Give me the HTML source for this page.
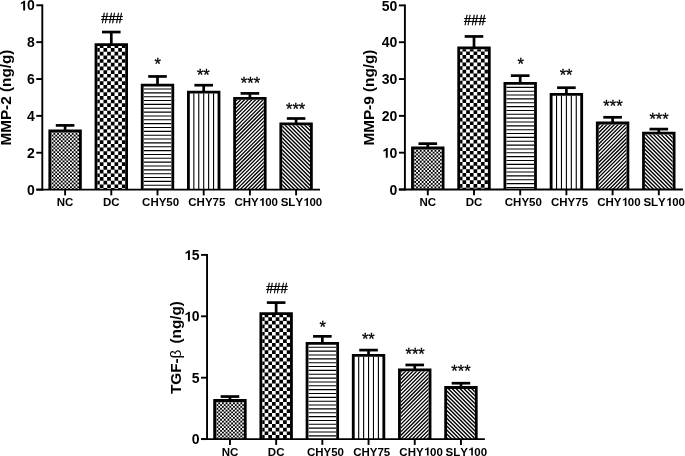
<!DOCTYPE html>
<html><head><meta charset="utf-8"><style>
html,body{margin:0;padding:0;background:#fff;overflow:hidden;}
body{filter:grayscale(1);}
svg{display:block;}
text{font-family:"Liberation Sans", sans-serif;fill:#000;font-kerning:none;}
</style></head><body>
<svg width="685" height="456" viewBox="0 0 685 456">
<defs><clipPath id="c0_0"><rect x="51.2" y="132.4" width="27.8" height="57.2"/></clipPath>
<clipPath id="c0_1"><rect x="97.4" y="46" width="27.8" height="143.6"/></clipPath>
<clipPath id="c0_2"><rect x="143.6" y="86.5" width="27.8" height="103.1"/></clipPath>
<clipPath id="c0_3"><rect x="189.8" y="93.5" width="27.8" height="96.1"/></clipPath>
<clipPath id="c0_4"><rect x="236" y="99.8" width="27.8" height="89.8"/></clipPath>
<clipPath id="c0_5"><rect x="282.2" y="125.3" width="27.8" height="64.3"/></clipPath>
<clipPath id="c1_0"><rect x="413.9" y="149.4" width="27.8" height="40.1"/></clipPath>
<clipPath id="c1_1"><rect x="460.1" y="49.3" width="27.8" height="140.2"/></clipPath>
<clipPath id="c1_2"><rect x="506.3" y="84.85" width="27.8" height="104.65"/></clipPath>
<clipPath id="c1_3"><rect x="552.5" y="95.8" width="27.8" height="93.7"/></clipPath>
<clipPath id="c1_4"><rect x="598.7" y="124.4" width="27.8" height="65.1"/></clipPath>
<clipPath id="c1_5"><rect x="644.9" y="134.6" width="27.8" height="54.9"/></clipPath>
<clipPath id="c2_0"><rect x="216.05" y="401.9" width="27.8" height="37.2"/></clipPath>
<clipPath id="c2_1"><rect x="262.25" y="315.1" width="27.8" height="124"/></clipPath>
<clipPath id="c2_2"><rect x="308.45" y="344.8" width="27.8" height="94.3"/></clipPath>
<clipPath id="c2_3"><rect x="354.65" y="356.8" width="27.8" height="82.3"/></clipPath>
<clipPath id="c2_4"><rect x="400.85" y="371.2" width="27.8" height="67.9"/></clipPath>
<clipPath id="c2_5"><rect x="447.05" y="388.9" width="27.8" height="50.2"/></clipPath></defs>
<rect width="685" height="456" fill="#fff"/>
<line x1="36.3" y1="189.6" x2="42.3" y2="189.6" stroke="#000" stroke-width="1.9"/>
<text x="34.7" y="194.75" text-anchor="end" font-weight="bold" font-size="14">0</text>
<line x1="36.3" y1="152.74" x2="42.3" y2="152.74" stroke="#000" stroke-width="1.9"/>
<text x="34.7" y="157.89" text-anchor="end" font-weight="bold" font-size="14">2</text>
<line x1="36.3" y1="115.88" x2="42.3" y2="115.88" stroke="#000" stroke-width="1.9"/>
<text x="34.7" y="121.03" text-anchor="end" font-weight="bold" font-size="14">4</text>
<line x1="36.3" y1="79.02" x2="42.3" y2="79.02" stroke="#000" stroke-width="1.9"/>
<text x="34.7" y="84.17" text-anchor="end" font-weight="bold" font-size="14">6</text>
<line x1="36.3" y1="42.16" x2="42.3" y2="42.16" stroke="#000" stroke-width="1.9"/>
<text x="34.7" y="47.31" text-anchor="end" font-weight="bold" font-size="14">8</text>
<line x1="36.3" y1="5.3" x2="42.3" y2="5.3" stroke="#000" stroke-width="1.9"/>
<text id="o0" x="34.7" y="10.45" text-anchor="end" font-weight="bold" font-size="14"> 0</text><path d="M0.43 0L0.43 -0.7L0.33 -0.7Q0.3 -0.62 0.12 -0.555L0.12 -0.445Q0.21 -0.475 0.29 -0.525L0.29 0Z" transform="translate(19.12,10.45) scale(14)"/>
<text transform="translate(10.7,97.6) rotate(-90)" text-anchor="middle" font-weight="bold" font-size="15.3">MMP-2 (ng/g)</text>
<line x1="65.1" y1="189.6" x2="65.1" y2="195.4" stroke="#000" stroke-width="1.9"/>
<text x="65.1" y="206" text-anchor="middle" font-weight="bold" font-size="11.5">NC</text>
<rect x="63.75" y="125.4" width="2.7" height="5.2" fill="#000"/>
<rect x="55.8" y="124.05" width="18.6" height="2.7" fill="#000"/>
<rect x="51.2" y="132.4" width="27.8" height="57.2" fill="#fff"/>
<path clip-path="url(#c0_0)" d="M51.6 130.96h1.84v1.84h-1.84zM55.28 130.96h1.84v1.84h-1.84zM58.96 130.96h1.84v1.84h-1.84zM62.64 130.96h1.84v1.84h-1.84zM66.32 130.96h1.84v1.84h-1.84zM70 130.96h1.84v1.84h-1.84zM73.68 130.96h1.84v1.84h-1.84zM77.36 130.96h1.84v1.84h-1.84zM49.76 132.8h1.84v1.84h-1.84zM53.44 132.8h1.84v1.84h-1.84zM57.12 132.8h1.84v1.84h-1.84zM60.8 132.8h1.84v1.84h-1.84zM64.48 132.8h1.84v1.84h-1.84zM68.16 132.8h1.84v1.84h-1.84zM71.84 132.8h1.84v1.84h-1.84zM75.52 132.8h1.84v1.84h-1.84zM51.6 134.64h1.84v1.84h-1.84zM55.28 134.64h1.84v1.84h-1.84zM58.96 134.64h1.84v1.84h-1.84zM62.64 134.64h1.84v1.84h-1.84zM66.32 134.64h1.84v1.84h-1.84zM70 134.64h1.84v1.84h-1.84zM73.68 134.64h1.84v1.84h-1.84zM77.36 134.64h1.84v1.84h-1.84zM49.76 136.48h1.84v1.84h-1.84zM53.44 136.48h1.84v1.84h-1.84zM57.12 136.48h1.84v1.84h-1.84zM60.8 136.48h1.84v1.84h-1.84zM64.48 136.48h1.84v1.84h-1.84zM68.16 136.48h1.84v1.84h-1.84zM71.84 136.48h1.84v1.84h-1.84zM75.52 136.48h1.84v1.84h-1.84zM51.6 138.32h1.84v1.84h-1.84zM55.28 138.32h1.84v1.84h-1.84zM58.96 138.32h1.84v1.84h-1.84zM62.64 138.32h1.84v1.84h-1.84zM66.32 138.32h1.84v1.84h-1.84zM70 138.32h1.84v1.84h-1.84zM73.68 138.32h1.84v1.84h-1.84zM77.36 138.32h1.84v1.84h-1.84zM49.76 140.16h1.84v1.84h-1.84zM53.44 140.16h1.84v1.84h-1.84zM57.12 140.16h1.84v1.84h-1.84zM60.8 140.16h1.84v1.84h-1.84zM64.48 140.16h1.84v1.84h-1.84zM68.16 140.16h1.84v1.84h-1.84zM71.84 140.16h1.84v1.84h-1.84zM75.52 140.16h1.84v1.84h-1.84zM51.6 142h1.84v1.84h-1.84zM55.28 142h1.84v1.84h-1.84zM58.96 142h1.84v1.84h-1.84zM62.64 142h1.84v1.84h-1.84zM66.32 142h1.84v1.84h-1.84zM70 142h1.84v1.84h-1.84zM73.68 142h1.84v1.84h-1.84zM77.36 142h1.84v1.84h-1.84zM49.76 143.84h1.84v1.84h-1.84zM53.44 143.84h1.84v1.84h-1.84zM57.12 143.84h1.84v1.84h-1.84zM60.8 143.84h1.84v1.84h-1.84zM64.48 143.84h1.84v1.84h-1.84zM68.16 143.84h1.84v1.84h-1.84zM71.84 143.84h1.84v1.84h-1.84zM75.52 143.84h1.84v1.84h-1.84zM51.6 145.68h1.84v1.84h-1.84zM55.28 145.68h1.84v1.84h-1.84zM58.96 145.68h1.84v1.84h-1.84zM62.64 145.68h1.84v1.84h-1.84zM66.32 145.68h1.84v1.84h-1.84zM70 145.68h1.84v1.84h-1.84zM73.68 145.68h1.84v1.84h-1.84zM77.36 145.68h1.84v1.84h-1.84zM49.76 147.52h1.84v1.84h-1.84zM53.44 147.52h1.84v1.84h-1.84zM57.12 147.52h1.84v1.84h-1.84zM60.8 147.52h1.84v1.84h-1.84zM64.48 147.52h1.84v1.84h-1.84zM68.16 147.52h1.84v1.84h-1.84zM71.84 147.52h1.84v1.84h-1.84zM75.52 147.52h1.84v1.84h-1.84zM51.6 149.36h1.84v1.84h-1.84zM55.28 149.36h1.84v1.84h-1.84zM58.96 149.36h1.84v1.84h-1.84zM62.64 149.36h1.84v1.84h-1.84zM66.32 149.36h1.84v1.84h-1.84zM70 149.36h1.84v1.84h-1.84zM73.68 149.36h1.84v1.84h-1.84zM77.36 149.36h1.84v1.84h-1.84zM49.76 151.2h1.84v1.84h-1.84zM53.44 151.2h1.84v1.84h-1.84zM57.12 151.2h1.84v1.84h-1.84zM60.8 151.2h1.84v1.84h-1.84zM64.48 151.2h1.84v1.84h-1.84zM68.16 151.2h1.84v1.84h-1.84zM71.84 151.2h1.84v1.84h-1.84zM75.52 151.2h1.84v1.84h-1.84zM51.6 153.04h1.84v1.84h-1.84zM55.28 153.04h1.84v1.84h-1.84zM58.96 153.04h1.84v1.84h-1.84zM62.64 153.04h1.84v1.84h-1.84zM66.32 153.04h1.84v1.84h-1.84zM70 153.04h1.84v1.84h-1.84zM73.68 153.04h1.84v1.84h-1.84zM77.36 153.04h1.84v1.84h-1.84zM49.76 154.88h1.84v1.84h-1.84zM53.44 154.88h1.84v1.84h-1.84zM57.12 154.88h1.84v1.84h-1.84zM60.8 154.88h1.84v1.84h-1.84zM64.48 154.88h1.84v1.84h-1.84zM68.16 154.88h1.84v1.84h-1.84zM71.84 154.88h1.84v1.84h-1.84zM75.52 154.88h1.84v1.84h-1.84zM51.6 156.72h1.84v1.84h-1.84zM55.28 156.72h1.84v1.84h-1.84zM58.96 156.72h1.84v1.84h-1.84zM62.64 156.72h1.84v1.84h-1.84zM66.32 156.72h1.84v1.84h-1.84zM70 156.72h1.84v1.84h-1.84zM73.68 156.72h1.84v1.84h-1.84zM77.36 156.72h1.84v1.84h-1.84zM49.76 158.56h1.84v1.84h-1.84zM53.44 158.56h1.84v1.84h-1.84zM57.12 158.56h1.84v1.84h-1.84zM60.8 158.56h1.84v1.84h-1.84zM64.48 158.56h1.84v1.84h-1.84zM68.16 158.56h1.84v1.84h-1.84zM71.84 158.56h1.84v1.84h-1.84zM75.52 158.56h1.84v1.84h-1.84zM51.6 160.4h1.84v1.84h-1.84zM55.28 160.4h1.84v1.84h-1.84zM58.96 160.4h1.84v1.84h-1.84zM62.64 160.4h1.84v1.84h-1.84zM66.32 160.4h1.84v1.84h-1.84zM70 160.4h1.84v1.84h-1.84zM73.68 160.4h1.84v1.84h-1.84zM77.36 160.4h1.84v1.84h-1.84zM49.76 162.24h1.84v1.84h-1.84zM53.44 162.24h1.84v1.84h-1.84zM57.12 162.24h1.84v1.84h-1.84zM60.8 162.24h1.84v1.84h-1.84zM64.48 162.24h1.84v1.84h-1.84zM68.16 162.24h1.84v1.84h-1.84zM71.84 162.24h1.84v1.84h-1.84zM75.52 162.24h1.84v1.84h-1.84zM51.6 164.08h1.84v1.84h-1.84zM55.28 164.08h1.84v1.84h-1.84zM58.96 164.08h1.84v1.84h-1.84zM62.64 164.08h1.84v1.84h-1.84zM66.32 164.08h1.84v1.84h-1.84zM70 164.08h1.84v1.84h-1.84zM73.68 164.08h1.84v1.84h-1.84zM77.36 164.08h1.84v1.84h-1.84zM49.76 165.92h1.84v1.84h-1.84zM53.44 165.92h1.84v1.84h-1.84zM57.12 165.92h1.84v1.84h-1.84zM60.8 165.92h1.84v1.84h-1.84zM64.48 165.92h1.84v1.84h-1.84zM68.16 165.92h1.84v1.84h-1.84zM71.84 165.92h1.84v1.84h-1.84zM75.52 165.92h1.84v1.84h-1.84zM51.6 167.76h1.84v1.84h-1.84zM55.28 167.76h1.84v1.84h-1.84zM58.96 167.76h1.84v1.84h-1.84zM62.64 167.76h1.84v1.84h-1.84zM66.32 167.76h1.84v1.84h-1.84zM70 167.76h1.84v1.84h-1.84zM73.68 167.76h1.84v1.84h-1.84zM77.36 167.76h1.84v1.84h-1.84zM49.76 169.6h1.84v1.84h-1.84zM53.44 169.6h1.84v1.84h-1.84zM57.12 169.6h1.84v1.84h-1.84zM60.8 169.6h1.84v1.84h-1.84zM64.48 169.6h1.84v1.84h-1.84zM68.16 169.6h1.84v1.84h-1.84zM71.84 169.6h1.84v1.84h-1.84zM75.52 169.6h1.84v1.84h-1.84zM51.6 171.44h1.84v1.84h-1.84zM55.28 171.44h1.84v1.84h-1.84zM58.96 171.44h1.84v1.84h-1.84zM62.64 171.44h1.84v1.84h-1.84zM66.32 171.44h1.84v1.84h-1.84zM70 171.44h1.84v1.84h-1.84zM73.68 171.44h1.84v1.84h-1.84zM77.36 171.44h1.84v1.84h-1.84zM49.76 173.28h1.84v1.84h-1.84zM53.44 173.28h1.84v1.84h-1.84zM57.12 173.28h1.84v1.84h-1.84zM60.8 173.28h1.84v1.84h-1.84zM64.48 173.28h1.84v1.84h-1.84zM68.16 173.28h1.84v1.84h-1.84zM71.84 173.28h1.84v1.84h-1.84zM75.52 173.28h1.84v1.84h-1.84zM51.6 175.12h1.84v1.84h-1.84zM55.28 175.12h1.84v1.84h-1.84zM58.96 175.12h1.84v1.84h-1.84zM62.64 175.12h1.84v1.84h-1.84zM66.32 175.12h1.84v1.84h-1.84zM70 175.12h1.84v1.84h-1.84zM73.68 175.12h1.84v1.84h-1.84zM77.36 175.12h1.84v1.84h-1.84zM49.76 176.96h1.84v1.84h-1.84zM53.44 176.96h1.84v1.84h-1.84zM57.12 176.96h1.84v1.84h-1.84zM60.8 176.96h1.84v1.84h-1.84zM64.48 176.96h1.84v1.84h-1.84zM68.16 176.96h1.84v1.84h-1.84zM71.84 176.96h1.84v1.84h-1.84zM75.52 176.96h1.84v1.84h-1.84zM51.6 178.8h1.84v1.84h-1.84zM55.28 178.8h1.84v1.84h-1.84zM58.96 178.8h1.84v1.84h-1.84zM62.64 178.8h1.84v1.84h-1.84zM66.32 178.8h1.84v1.84h-1.84zM70 178.8h1.84v1.84h-1.84zM73.68 178.8h1.84v1.84h-1.84zM77.36 178.8h1.84v1.84h-1.84zM49.76 180.64h1.84v1.84h-1.84zM53.44 180.64h1.84v1.84h-1.84zM57.12 180.64h1.84v1.84h-1.84zM60.8 180.64h1.84v1.84h-1.84zM64.48 180.64h1.84v1.84h-1.84zM68.16 180.64h1.84v1.84h-1.84zM71.84 180.64h1.84v1.84h-1.84zM75.52 180.64h1.84v1.84h-1.84zM51.6 182.48h1.84v1.84h-1.84zM55.28 182.48h1.84v1.84h-1.84zM58.96 182.48h1.84v1.84h-1.84zM62.64 182.48h1.84v1.84h-1.84zM66.32 182.48h1.84v1.84h-1.84zM70 182.48h1.84v1.84h-1.84zM73.68 182.48h1.84v1.84h-1.84zM77.36 182.48h1.84v1.84h-1.84zM49.76 184.32h1.84v1.84h-1.84zM53.44 184.32h1.84v1.84h-1.84zM57.12 184.32h1.84v1.84h-1.84zM60.8 184.32h1.84v1.84h-1.84zM64.48 184.32h1.84v1.84h-1.84zM68.16 184.32h1.84v1.84h-1.84zM71.84 184.32h1.84v1.84h-1.84zM75.52 184.32h1.84v1.84h-1.84zM51.6 186.16h1.84v1.84h-1.84zM55.28 186.16h1.84v1.84h-1.84zM58.96 186.16h1.84v1.84h-1.84zM62.64 186.16h1.84v1.84h-1.84zM66.32 186.16h1.84v1.84h-1.84zM70 186.16h1.84v1.84h-1.84zM73.68 186.16h1.84v1.84h-1.84zM77.36 186.16h1.84v1.84h-1.84zM49.76 188h1.84v1.84h-1.84zM53.44 188h1.84v1.84h-1.84zM57.12 188h1.84v1.84h-1.84zM60.8 188h1.84v1.84h-1.84zM64.48 188h1.84v1.84h-1.84zM68.16 188h1.84v1.84h-1.84zM71.84 188h1.84v1.84h-1.84zM75.52 188h1.84v1.84h-1.84z" fill="#000"/>
<path d="M49.8 189.6V131H80.4V189.6" fill="none" stroke="#000" stroke-width="2.8" stroke-linejoin="miter"/>
<line x1="111.3" y1="189.6" x2="111.3" y2="195.4" stroke="#000" stroke-width="1.9"/>
<text x="111.3" y="206" text-anchor="middle" font-weight="bold" font-size="11.5">DC</text>
<rect x="109.95" y="32.05" width="2.7" height="12.15" fill="#000"/>
<rect x="102" y="30.7" width="18.6" height="2.7" fill="#000"/>
<rect x="97.4" y="46" width="27.8" height="143.6" fill="#fff"/>
<path clip-path="url(#c0_1)" d="M99.78 44.4h3.69v3.69h-3.69zM107.16 44.4h3.69v3.69h-3.69zM114.53 44.4h3.69v3.69h-3.69zM121.9 44.4h3.69v3.69h-3.69zM96.1 48.09h3.69v3.69h-3.69zM103.47 48.09h3.69v3.69h-3.69zM110.84 48.09h3.69v3.69h-3.69zM118.21 48.09h3.69v3.69h-3.69zM99.78 51.77h3.69v3.69h-3.69zM107.16 51.77h3.69v3.69h-3.69zM114.53 51.77h3.69v3.69h-3.69zM121.9 51.77h3.69v3.69h-3.69zM96.1 55.46h3.69v3.69h-3.69zM103.47 55.46h3.69v3.69h-3.69zM110.84 55.46h3.69v3.69h-3.69zM118.21 55.46h3.69v3.69h-3.69zM99.78 59.14h3.69v3.69h-3.69zM107.16 59.14h3.69v3.69h-3.69zM114.53 59.14h3.69v3.69h-3.69zM121.9 59.14h3.69v3.69h-3.69zM96.1 62.83h3.69v3.69h-3.69zM103.47 62.83h3.69v3.69h-3.69zM110.84 62.83h3.69v3.69h-3.69zM118.21 62.83h3.69v3.69h-3.69zM99.78 66.51h3.69v3.69h-3.69zM107.16 66.51h3.69v3.69h-3.69zM114.53 66.51h3.69v3.69h-3.69zM121.9 66.51h3.69v3.69h-3.69zM96.1 70.2h3.69v3.69h-3.69zM103.47 70.2h3.69v3.69h-3.69zM110.84 70.2h3.69v3.69h-3.69zM118.21 70.2h3.69v3.69h-3.69zM99.78 73.88h3.69v3.69h-3.69zM107.16 73.88h3.69v3.69h-3.69zM114.53 73.88h3.69v3.69h-3.69zM121.9 73.88h3.69v3.69h-3.69zM96.1 77.57h3.69v3.69h-3.69zM103.47 77.57h3.69v3.69h-3.69zM110.84 77.57h3.69v3.69h-3.69zM118.21 77.57h3.69v3.69h-3.69zM99.78 81.25h3.69v3.69h-3.69zM107.16 81.25h3.69v3.69h-3.69zM114.53 81.25h3.69v3.69h-3.69zM121.9 81.25h3.69v3.69h-3.69zM96.1 84.94h3.69v3.69h-3.69zM103.47 84.94h3.69v3.69h-3.69zM110.84 84.94h3.69v3.69h-3.69zM118.21 84.94h3.69v3.69h-3.69zM99.78 88.62h3.69v3.69h-3.69zM107.16 88.62h3.69v3.69h-3.69zM114.53 88.62h3.69v3.69h-3.69zM121.9 88.62h3.69v3.69h-3.69zM96.1 92.31h3.69v3.69h-3.69zM103.47 92.31h3.69v3.69h-3.69zM110.84 92.31h3.69v3.69h-3.69zM118.21 92.31h3.69v3.69h-3.69zM99.78 95.99h3.69v3.69h-3.69zM107.16 95.99h3.69v3.69h-3.69zM114.53 95.99h3.69v3.69h-3.69zM121.9 95.99h3.69v3.69h-3.69zM96.1 99.68h3.69v3.69h-3.69zM103.47 99.68h3.69v3.69h-3.69zM110.84 99.68h3.69v3.69h-3.69zM118.21 99.68h3.69v3.69h-3.69zM99.78 103.36h3.69v3.69h-3.69zM107.16 103.36h3.69v3.69h-3.69zM114.53 103.36h3.69v3.69h-3.69zM121.9 103.36h3.69v3.69h-3.69zM96.1 107.05h3.69v3.69h-3.69zM103.47 107.05h3.69v3.69h-3.69zM110.84 107.05h3.69v3.69h-3.69zM118.21 107.05h3.69v3.69h-3.69zM99.78 110.73h3.69v3.69h-3.69zM107.16 110.73h3.69v3.69h-3.69zM114.53 110.73h3.69v3.69h-3.69zM121.9 110.73h3.69v3.69h-3.69zM96.1 114.42h3.69v3.69h-3.69zM103.47 114.42h3.69v3.69h-3.69zM110.84 114.42h3.69v3.69h-3.69zM118.21 114.42h3.69v3.69h-3.69zM99.78 118.1h3.69v3.69h-3.69zM107.16 118.1h3.69v3.69h-3.69zM114.53 118.1h3.69v3.69h-3.69zM121.9 118.1h3.69v3.69h-3.69zM96.1 121.79h3.69v3.69h-3.69zM103.47 121.79h3.69v3.69h-3.69zM110.84 121.79h3.69v3.69h-3.69zM118.21 121.79h3.69v3.69h-3.69zM99.78 125.47h3.69v3.69h-3.69zM107.16 125.47h3.69v3.69h-3.69zM114.53 125.47h3.69v3.69h-3.69zM121.9 125.47h3.69v3.69h-3.69zM96.1 129.16h3.69v3.69h-3.69zM103.47 129.16h3.69v3.69h-3.69zM110.84 129.16h3.69v3.69h-3.69zM118.21 129.16h3.69v3.69h-3.69zM99.78 132.84h3.69v3.69h-3.69zM107.16 132.84h3.69v3.69h-3.69zM114.53 132.84h3.69v3.69h-3.69zM121.9 132.84h3.69v3.69h-3.69zM96.1 136.53h3.69v3.69h-3.69zM103.47 136.53h3.69v3.69h-3.69zM110.84 136.53h3.69v3.69h-3.69zM118.21 136.53h3.69v3.69h-3.69zM99.78 140.21h3.69v3.69h-3.69zM107.16 140.21h3.69v3.69h-3.69zM114.53 140.21h3.69v3.69h-3.69zM121.9 140.21h3.69v3.69h-3.69zM96.1 143.9h3.69v3.69h-3.69zM103.47 143.9h3.69v3.69h-3.69zM110.84 143.9h3.69v3.69h-3.69zM118.21 143.9h3.69v3.69h-3.69zM99.78 147.58h3.69v3.69h-3.69zM107.16 147.58h3.69v3.69h-3.69zM114.53 147.58h3.69v3.69h-3.69zM121.9 147.58h3.69v3.69h-3.69zM96.1 151.27h3.69v3.69h-3.69zM103.47 151.27h3.69v3.69h-3.69zM110.84 151.27h3.69v3.69h-3.69zM118.21 151.27h3.69v3.69h-3.69zM99.78 154.95h3.69v3.69h-3.69zM107.16 154.95h3.69v3.69h-3.69zM114.53 154.95h3.69v3.69h-3.69zM121.9 154.95h3.69v3.69h-3.69zM96.1 158.64h3.69v3.69h-3.69zM103.47 158.64h3.69v3.69h-3.69zM110.84 158.64h3.69v3.69h-3.69zM118.21 158.64h3.69v3.69h-3.69zM99.78 162.32h3.69v3.69h-3.69zM107.16 162.32h3.69v3.69h-3.69zM114.53 162.32h3.69v3.69h-3.69zM121.9 162.32h3.69v3.69h-3.69zM96.1 166.01h3.69v3.69h-3.69zM103.47 166.01h3.69v3.69h-3.69zM110.84 166.01h3.69v3.69h-3.69zM118.21 166.01h3.69v3.69h-3.69zM99.78 169.69h3.69v3.69h-3.69zM107.16 169.69h3.69v3.69h-3.69zM114.53 169.69h3.69v3.69h-3.69zM121.9 169.69h3.69v3.69h-3.69zM96.1 173.38h3.69v3.69h-3.69zM103.47 173.38h3.69v3.69h-3.69zM110.84 173.38h3.69v3.69h-3.69zM118.21 173.38h3.69v3.69h-3.69zM99.78 177.06h3.69v3.69h-3.69zM107.16 177.06h3.69v3.69h-3.69zM114.53 177.06h3.69v3.69h-3.69zM121.9 177.06h3.69v3.69h-3.69zM96.1 180.75h3.69v3.69h-3.69zM103.47 180.75h3.69v3.69h-3.69zM110.84 180.75h3.69v3.69h-3.69zM118.21 180.75h3.69v3.69h-3.69zM99.78 184.43h3.69v3.69h-3.69zM107.16 184.43h3.69v3.69h-3.69zM114.53 184.43h3.69v3.69h-3.69zM121.9 184.43h3.69v3.69h-3.69zM96.1 188.12h3.69v3.69h-3.69zM103.47 188.12h3.69v3.69h-3.69zM110.84 188.12h3.69v3.69h-3.69zM118.21 188.12h3.69v3.69h-3.69z" fill="#000"/>
<path d="M96 189.6V44.6H126.6V189.6" fill="none" stroke="#000" stroke-width="2.8" stroke-linejoin="miter"/>
<text transform="translate(112,22.85) scale(0.9,1)" text-anchor="middle" font-size="14.4" stroke="#000" stroke-width="0.42">###</text>
<line x1="157.5" y1="189.6" x2="157.5" y2="195.4" stroke="#000" stroke-width="1.9"/>
<text x="142.1" y="206" font-weight="bold" font-size="11.5">CHY50</text>
<rect x="156.15" y="76.45" width="2.7" height="8.25" fill="#000"/>
<rect x="148.2" y="75.1" width="18.6" height="2.7" fill="#000"/>
<path clip-path="url(#c0_2)" d="M143.6 89H171.4M143.6 92.85H171.4M143.6 96.7H171.4M143.6 100.55H171.4M143.6 104.4H171.4M143.6 108.25H171.4M143.6 112.1H171.4M143.6 115.95H171.4M143.6 119.8H171.4M143.6 123.65H171.4M143.6 127.5H171.4M143.6 131.35H171.4M143.6 135.2H171.4M143.6 139.05H171.4M143.6 142.9H171.4M143.6 146.75H171.4M143.6 150.6H171.4M143.6 154.45H171.4M143.6 158.3H171.4M143.6 162.15H171.4M143.6 166H171.4M143.6 169.85H171.4M143.6 173.7H171.4M143.6 177.55H171.4M143.6 181.4H171.4M143.6 185.25H171.4M143.6 189.1H171.4" stroke="#000" stroke-width="1.1" fill="none"/>
<path d="M142.2 189.6V85.1H172.8V189.6" fill="none" stroke="#000" stroke-width="2.8" stroke-linejoin="miter"/>
<text x="157.75" y="69.71" text-anchor="middle" font-size="16.5" stroke="#000" stroke-width="0.3">*</text>
<line x1="203.7" y1="189.6" x2="203.7" y2="195.4" stroke="#000" stroke-width="1.9"/>
<text x="188.3" y="206" font-weight="bold" font-size="11.5">CHY75</text>
<rect x="202.35" y="85.2" width="2.7" height="6.5" fill="#000"/>
<rect x="194.4" y="83.85" width="18.6" height="2.7" fill="#000"/>
<path clip-path="url(#c0_3)" d="M188.91 92.5V189.6M193.84 92.5V189.6M198.77 92.5V189.6M203.7 92.5V189.6M208.63 92.5V189.6M213.56 92.5V189.6M218.49 92.5V189.6" stroke="#000" stroke-width="1.1" fill="none"/>
<path d="M188.4 189.6V92.1H219V189.6" fill="none" stroke="#000" stroke-width="2.8" stroke-linejoin="miter"/>
<text x="203.35" y="80.76" text-anchor="middle" font-size="16.5" stroke="#000" stroke-width="0.3">**</text>
<line x1="249.9" y1="189.6" x2="249.9" y2="195.4" stroke="#000" stroke-width="1.9"/>
<text id="o1" x="234.5" y="206" font-weight="bold" font-size="11.5">CHY 00</text><path d="M0.43 0L0.43 -0.7L0.33 -0.7Q0.3 -0.62 0.12 -0.555L0.12 -0.445Q0.21 -0.475 0.29 -0.525L0.29 0Z" transform="translate(258.77,206) scale(11.5)"/>
<rect x="248.55" y="93.4" width="2.7" height="4.6" fill="#000"/>
<rect x="240.6" y="92.05" width="18.6" height="2.7" fill="#000"/>
<path clip-path="url(#c0_4)" d="M142.48 190.6L234.28 98.8M146.2 190.6L238 98.8M149.92 190.6L241.72 98.8M153.64 190.6L245.44 98.8M157.36 190.6L249.16 98.8M161.08 190.6L252.88 98.8M164.8 190.6L256.6 98.8M168.52 190.6L260.32 98.8M172.24 190.6L264.04 98.8M175.96 190.6L267.76 98.8M179.68 190.6L271.48 98.8M183.4 190.6L275.2 98.8M187.12 190.6L278.92 98.8M190.84 190.6L282.64 98.8M194.56 190.6L286.36 98.8M198.28 190.6L290.08 98.8M202 190.6L293.8 98.8M205.72 190.6L297.52 98.8M209.44 190.6L301.24 98.8M213.16 190.6L304.96 98.8M216.88 190.6L308.68 98.8M220.6 190.6L312.4 98.8M224.32 190.6L316.12 98.8M228.04 190.6L319.84 98.8M231.76 190.6L323.56 98.8M235.48 190.6L327.28 98.8M239.2 190.6L331 98.8M242.92 190.6L334.72 98.8M246.64 190.6L338.44 98.8M250.36 190.6L342.16 98.8M254.08 190.6L345.88 98.8M257.8 190.6L349.6 98.8M261.52 190.6L353.32 98.8M265.24 190.6L357.04 98.8" stroke="#000" stroke-width="1.32" fill="none"/>
<path d="M234.6 189.6V98.4H265.2V189.6" fill="none" stroke="#000" stroke-width="2.8" stroke-linejoin="miter"/>
<text x="250.5" y="89.11" text-anchor="middle" font-size="16.5" stroke="#000" stroke-width="0.3">***</text>
<line x1="296.1" y1="189.6" x2="296.1" y2="195.4" stroke="#000" stroke-width="1.9"/>
<text id="o2" x="280.7" y="206" font-weight="bold" font-size="11.5">SLY 00</text><path d="M0.43 0L0.43 -0.7L0.33 -0.7Q0.3 -0.62 0.12 -0.555L0.12 -0.445Q0.21 -0.475 0.29 -0.525L0.29 0Z" transform="translate(303.06,206) scale(11.5)"/>
<rect x="294.75" y="118.5" width="2.7" height="5" fill="#000"/>
<rect x="286.8" y="117.15" width="18.6" height="2.7" fill="#000"/>
<path clip-path="url(#c0_5)" d="M214 124.3L280.3 190.6M217.9 124.3L284.2 190.6M221.8 124.3L288.1 190.6M225.7 124.3L292 190.6M229.6 124.3L295.9 190.6M233.5 124.3L299.8 190.6M237.4 124.3L303.7 190.6M241.3 124.3L307.6 190.6M245.2 124.3L311.5 190.6M249.1 124.3L315.4 190.6M253 124.3L319.3 190.6M256.9 124.3L323.2 190.6M260.8 124.3L327.1 190.6M264.7 124.3L331 190.6M268.6 124.3L334.9 190.6M272.5 124.3L338.8 190.6M276.4 124.3L342.7 190.6M280.3 124.3L346.6 190.6M284.2 124.3L350.5 190.6M288.1 124.3L354.4 190.6M292 124.3L358.3 190.6M295.9 124.3L362.2 190.6M299.8 124.3L366.1 190.6M303.7 124.3L370 190.6M307.6 124.3L373.9 190.6M311.5 124.3L377.8 190.6" stroke="#000" stroke-width="1.38" fill="none"/>
<path d="M280.8 189.6V123.9H311.4V189.6" fill="none" stroke="#000" stroke-width="2.8" stroke-linejoin="miter"/>
<text x="295.65" y="114.51" text-anchor="middle" font-size="16.5" stroke="#000" stroke-width="0.3">***</text>
<line x1="36.3" y1="189.6" x2="320" y2="189.6" stroke="#000" stroke-width="1.9"/>
<line x1="42.3" y1="4.35" x2="42.3" y2="190.55" stroke="#000" stroke-width="1.9"/>
<line x1="398.9" y1="189.5" x2="404.9" y2="189.5" stroke="#000" stroke-width="1.9"/>
<text x="397.3" y="194.65" text-anchor="end" font-weight="bold" font-size="14">0</text>
<line x1="398.9" y1="152.68" x2="404.9" y2="152.68" stroke="#000" stroke-width="1.9"/>
<text id="o3" x="397.3" y="157.83" text-anchor="end" font-weight="bold" font-size="14"> 0</text><path d="M0.43 0L0.43 -0.7L0.33 -0.7Q0.3 -0.62 0.12 -0.555L0.12 -0.445Q0.21 -0.475 0.29 -0.525L0.29 0Z" transform="translate(381.72,157.83) scale(14)"/>
<line x1="398.9" y1="115.86" x2="404.9" y2="115.86" stroke="#000" stroke-width="1.9"/>
<text x="397.3" y="121.01" text-anchor="end" font-weight="bold" font-size="14">20</text>
<line x1="398.9" y1="79.04" x2="404.9" y2="79.04" stroke="#000" stroke-width="1.9"/>
<text x="397.3" y="84.19" text-anchor="end" font-weight="bold" font-size="14">30</text>
<line x1="398.9" y1="42.22" x2="404.9" y2="42.22" stroke="#000" stroke-width="1.9"/>
<text x="397.3" y="47.37" text-anchor="end" font-weight="bold" font-size="14">40</text>
<line x1="398.9" y1="5.4" x2="404.9" y2="5.4" stroke="#000" stroke-width="1.9"/>
<text x="397.3" y="10.55" text-anchor="end" font-weight="bold" font-size="14">50</text>
<text transform="translate(373.5,97.6) rotate(-90)" text-anchor="middle" font-weight="bold" font-size="15.3">MMP-9 (ng/g)</text>
<line x1="427.8" y1="189.5" x2="427.8" y2="195.3" stroke="#000" stroke-width="1.9"/>
<text x="427.8" y="205.9" text-anchor="middle" font-weight="bold" font-size="11.5">NC</text>
<rect x="426.45" y="143.65" width="2.7" height="3.95" fill="#000"/>
<rect x="418.5" y="142.3" width="18.6" height="2.7" fill="#000"/>
<rect x="413.9" y="149.4" width="27.8" height="40.1" fill="#fff"/>
<path clip-path="url(#c1_0)" d="M414.3 147.96h1.84v1.84h-1.84zM417.98 147.96h1.84v1.84h-1.84zM421.66 147.96h1.84v1.84h-1.84zM425.34 147.96h1.84v1.84h-1.84zM429.02 147.96h1.84v1.84h-1.84zM432.7 147.96h1.84v1.84h-1.84zM436.38 147.96h1.84v1.84h-1.84zM440.06 147.96h1.84v1.84h-1.84zM412.46 149.8h1.84v1.84h-1.84zM416.14 149.8h1.84v1.84h-1.84zM419.82 149.8h1.84v1.84h-1.84zM423.5 149.8h1.84v1.84h-1.84zM427.18 149.8h1.84v1.84h-1.84zM430.86 149.8h1.84v1.84h-1.84zM434.54 149.8h1.84v1.84h-1.84zM438.22 149.8h1.84v1.84h-1.84zM414.3 151.64h1.84v1.84h-1.84zM417.98 151.64h1.84v1.84h-1.84zM421.66 151.64h1.84v1.84h-1.84zM425.34 151.64h1.84v1.84h-1.84zM429.02 151.64h1.84v1.84h-1.84zM432.7 151.64h1.84v1.84h-1.84zM436.38 151.64h1.84v1.84h-1.84zM440.06 151.64h1.84v1.84h-1.84zM412.46 153.48h1.84v1.84h-1.84zM416.14 153.48h1.84v1.84h-1.84zM419.82 153.48h1.84v1.84h-1.84zM423.5 153.48h1.84v1.84h-1.84zM427.18 153.48h1.84v1.84h-1.84zM430.86 153.48h1.84v1.84h-1.84zM434.54 153.48h1.84v1.84h-1.84zM438.22 153.48h1.84v1.84h-1.84zM414.3 155.32h1.84v1.84h-1.84zM417.98 155.32h1.84v1.84h-1.84zM421.66 155.32h1.84v1.84h-1.84zM425.34 155.32h1.84v1.84h-1.84zM429.02 155.32h1.84v1.84h-1.84zM432.7 155.32h1.84v1.84h-1.84zM436.38 155.32h1.84v1.84h-1.84zM440.06 155.32h1.84v1.84h-1.84zM412.46 157.16h1.84v1.84h-1.84zM416.14 157.16h1.84v1.84h-1.84zM419.82 157.16h1.84v1.84h-1.84zM423.5 157.16h1.84v1.84h-1.84zM427.18 157.16h1.84v1.84h-1.84zM430.86 157.16h1.84v1.84h-1.84zM434.54 157.16h1.84v1.84h-1.84zM438.22 157.16h1.84v1.84h-1.84zM414.3 159h1.84v1.84h-1.84zM417.98 159h1.84v1.84h-1.84zM421.66 159h1.84v1.84h-1.84zM425.34 159h1.84v1.84h-1.84zM429.02 159h1.84v1.84h-1.84zM432.7 159h1.84v1.84h-1.84zM436.38 159h1.84v1.84h-1.84zM440.06 159h1.84v1.84h-1.84zM412.46 160.84h1.84v1.84h-1.84zM416.14 160.84h1.84v1.84h-1.84zM419.82 160.84h1.84v1.84h-1.84zM423.5 160.84h1.84v1.84h-1.84zM427.18 160.84h1.84v1.84h-1.84zM430.86 160.84h1.84v1.84h-1.84zM434.54 160.84h1.84v1.84h-1.84zM438.22 160.84h1.84v1.84h-1.84zM414.3 162.68h1.84v1.84h-1.84zM417.98 162.68h1.84v1.84h-1.84zM421.66 162.68h1.84v1.84h-1.84zM425.34 162.68h1.84v1.84h-1.84zM429.02 162.68h1.84v1.84h-1.84zM432.7 162.68h1.84v1.84h-1.84zM436.38 162.68h1.84v1.84h-1.84zM440.06 162.68h1.84v1.84h-1.84zM412.46 164.52h1.84v1.84h-1.84zM416.14 164.52h1.84v1.84h-1.84zM419.82 164.52h1.84v1.84h-1.84zM423.5 164.52h1.84v1.84h-1.84zM427.18 164.52h1.84v1.84h-1.84zM430.86 164.52h1.84v1.84h-1.84zM434.54 164.52h1.84v1.84h-1.84zM438.22 164.52h1.84v1.84h-1.84zM414.3 166.36h1.84v1.84h-1.84zM417.98 166.36h1.84v1.84h-1.84zM421.66 166.36h1.84v1.84h-1.84zM425.34 166.36h1.84v1.84h-1.84zM429.02 166.36h1.84v1.84h-1.84zM432.7 166.36h1.84v1.84h-1.84zM436.38 166.36h1.84v1.84h-1.84zM440.06 166.36h1.84v1.84h-1.84zM412.46 168.2h1.84v1.84h-1.84zM416.14 168.2h1.84v1.84h-1.84zM419.82 168.2h1.84v1.84h-1.84zM423.5 168.2h1.84v1.84h-1.84zM427.18 168.2h1.84v1.84h-1.84zM430.86 168.2h1.84v1.84h-1.84zM434.54 168.2h1.84v1.84h-1.84zM438.22 168.2h1.84v1.84h-1.84zM414.3 170.04h1.84v1.84h-1.84zM417.98 170.04h1.84v1.84h-1.84zM421.66 170.04h1.84v1.84h-1.84zM425.34 170.04h1.84v1.84h-1.84zM429.02 170.04h1.84v1.84h-1.84zM432.7 170.04h1.84v1.84h-1.84zM436.38 170.04h1.84v1.84h-1.84zM440.06 170.04h1.84v1.84h-1.84zM412.46 171.88h1.84v1.84h-1.84zM416.14 171.88h1.84v1.84h-1.84zM419.82 171.88h1.84v1.84h-1.84zM423.5 171.88h1.84v1.84h-1.84zM427.18 171.88h1.84v1.84h-1.84zM430.86 171.88h1.84v1.84h-1.84zM434.54 171.88h1.84v1.84h-1.84zM438.22 171.88h1.84v1.84h-1.84zM414.3 173.72h1.84v1.84h-1.84zM417.98 173.72h1.84v1.84h-1.84zM421.66 173.72h1.84v1.84h-1.84zM425.34 173.72h1.84v1.84h-1.84zM429.02 173.72h1.84v1.84h-1.84zM432.7 173.72h1.84v1.84h-1.84zM436.38 173.72h1.84v1.84h-1.84zM440.06 173.72h1.84v1.84h-1.84zM412.46 175.56h1.84v1.84h-1.84zM416.14 175.56h1.84v1.84h-1.84zM419.82 175.56h1.84v1.84h-1.84zM423.5 175.56h1.84v1.84h-1.84zM427.18 175.56h1.84v1.84h-1.84zM430.86 175.56h1.84v1.84h-1.84zM434.54 175.56h1.84v1.84h-1.84zM438.22 175.56h1.84v1.84h-1.84zM414.3 177.4h1.84v1.84h-1.84zM417.98 177.4h1.84v1.84h-1.84zM421.66 177.4h1.84v1.84h-1.84zM425.34 177.4h1.84v1.84h-1.84zM429.02 177.4h1.84v1.84h-1.84zM432.7 177.4h1.84v1.84h-1.84zM436.38 177.4h1.84v1.84h-1.84zM440.06 177.4h1.84v1.84h-1.84zM412.46 179.24h1.84v1.84h-1.84zM416.14 179.24h1.84v1.84h-1.84zM419.82 179.24h1.84v1.84h-1.84zM423.5 179.24h1.84v1.84h-1.84zM427.18 179.24h1.84v1.84h-1.84zM430.86 179.24h1.84v1.84h-1.84zM434.54 179.24h1.84v1.84h-1.84zM438.22 179.24h1.84v1.84h-1.84zM414.3 181.08h1.84v1.84h-1.84zM417.98 181.08h1.84v1.84h-1.84zM421.66 181.08h1.84v1.84h-1.84zM425.34 181.08h1.84v1.84h-1.84zM429.02 181.08h1.84v1.84h-1.84zM432.7 181.08h1.84v1.84h-1.84zM436.38 181.08h1.84v1.84h-1.84zM440.06 181.08h1.84v1.84h-1.84zM412.46 182.92h1.84v1.84h-1.84zM416.14 182.92h1.84v1.84h-1.84zM419.82 182.92h1.84v1.84h-1.84zM423.5 182.92h1.84v1.84h-1.84zM427.18 182.92h1.84v1.84h-1.84zM430.86 182.92h1.84v1.84h-1.84zM434.54 182.92h1.84v1.84h-1.84zM438.22 182.92h1.84v1.84h-1.84zM414.3 184.76h1.84v1.84h-1.84zM417.98 184.76h1.84v1.84h-1.84zM421.66 184.76h1.84v1.84h-1.84zM425.34 184.76h1.84v1.84h-1.84zM429.02 184.76h1.84v1.84h-1.84zM432.7 184.76h1.84v1.84h-1.84zM436.38 184.76h1.84v1.84h-1.84zM440.06 184.76h1.84v1.84h-1.84zM412.46 186.6h1.84v1.84h-1.84zM416.14 186.6h1.84v1.84h-1.84zM419.82 186.6h1.84v1.84h-1.84zM423.5 186.6h1.84v1.84h-1.84zM427.18 186.6h1.84v1.84h-1.84zM430.86 186.6h1.84v1.84h-1.84zM434.54 186.6h1.84v1.84h-1.84zM438.22 186.6h1.84v1.84h-1.84zM414.3 188.44h1.84v1.84h-1.84zM417.98 188.44h1.84v1.84h-1.84zM421.66 188.44h1.84v1.84h-1.84zM425.34 188.44h1.84v1.84h-1.84zM429.02 188.44h1.84v1.84h-1.84zM432.7 188.44h1.84v1.84h-1.84zM436.38 188.44h1.84v1.84h-1.84zM440.06 188.44h1.84v1.84h-1.84z" fill="#000"/>
<path d="M412.5 189.5V148H443.1V189.5" fill="none" stroke="#000" stroke-width="2.8" stroke-linejoin="miter"/>
<line x1="474" y1="189.5" x2="474" y2="195.3" stroke="#000" stroke-width="1.9"/>
<text x="474" y="205.9" text-anchor="middle" font-weight="bold" font-size="11.5">DC</text>
<rect x="472.65" y="36.45" width="2.7" height="11.05" fill="#000"/>
<rect x="464.7" y="35.1" width="18.6" height="2.7" fill="#000"/>
<rect x="460.1" y="49.3" width="27.8" height="140.2" fill="#fff"/>
<path clip-path="url(#c1_1)" d="M462.49 47.7h3.69v3.69h-3.69zM469.86 47.7h3.69v3.69h-3.69zM477.23 47.7h3.69v3.69h-3.69zM484.6 47.7h3.69v3.69h-3.69zM458.8 51.39h3.69v3.69h-3.69zM466.17 51.39h3.69v3.69h-3.69zM473.54 51.39h3.69v3.69h-3.69zM480.91 51.39h3.69v3.69h-3.69zM462.49 55.07h3.69v3.69h-3.69zM469.86 55.07h3.69v3.69h-3.69zM477.23 55.07h3.69v3.69h-3.69zM484.6 55.07h3.69v3.69h-3.69zM458.8 58.76h3.69v3.69h-3.69zM466.17 58.76h3.69v3.69h-3.69zM473.54 58.76h3.69v3.69h-3.69zM480.91 58.76h3.69v3.69h-3.69zM462.49 62.44h3.69v3.69h-3.69zM469.86 62.44h3.69v3.69h-3.69zM477.23 62.44h3.69v3.69h-3.69zM484.6 62.44h3.69v3.69h-3.69zM458.8 66.13h3.69v3.69h-3.69zM466.17 66.13h3.69v3.69h-3.69zM473.54 66.13h3.69v3.69h-3.69zM480.91 66.13h3.69v3.69h-3.69zM462.49 69.81h3.69v3.69h-3.69zM469.86 69.81h3.69v3.69h-3.69zM477.23 69.81h3.69v3.69h-3.69zM484.6 69.81h3.69v3.69h-3.69zM458.8 73.5h3.69v3.69h-3.69zM466.17 73.5h3.69v3.69h-3.69zM473.54 73.5h3.69v3.69h-3.69zM480.91 73.5h3.69v3.69h-3.69zM462.49 77.18h3.69v3.69h-3.69zM469.86 77.18h3.69v3.69h-3.69zM477.23 77.18h3.69v3.69h-3.69zM484.6 77.18h3.69v3.69h-3.69zM458.8 80.87h3.69v3.69h-3.69zM466.17 80.87h3.69v3.69h-3.69zM473.54 80.87h3.69v3.69h-3.69zM480.91 80.87h3.69v3.69h-3.69zM462.49 84.55h3.69v3.69h-3.69zM469.86 84.55h3.69v3.69h-3.69zM477.23 84.55h3.69v3.69h-3.69zM484.6 84.55h3.69v3.69h-3.69zM458.8 88.24h3.69v3.69h-3.69zM466.17 88.24h3.69v3.69h-3.69zM473.54 88.24h3.69v3.69h-3.69zM480.91 88.24h3.69v3.69h-3.69zM462.49 91.92h3.69v3.69h-3.69zM469.86 91.92h3.69v3.69h-3.69zM477.23 91.92h3.69v3.69h-3.69zM484.6 91.92h3.69v3.69h-3.69zM458.8 95.61h3.69v3.69h-3.69zM466.17 95.61h3.69v3.69h-3.69zM473.54 95.61h3.69v3.69h-3.69zM480.91 95.61h3.69v3.69h-3.69zM462.49 99.29h3.69v3.69h-3.69zM469.86 99.29h3.69v3.69h-3.69zM477.23 99.29h3.69v3.69h-3.69zM484.6 99.29h3.69v3.69h-3.69zM458.8 102.98h3.69v3.69h-3.69zM466.17 102.98h3.69v3.69h-3.69zM473.54 102.98h3.69v3.69h-3.69zM480.91 102.98h3.69v3.69h-3.69zM462.49 106.66h3.69v3.69h-3.69zM469.86 106.66h3.69v3.69h-3.69zM477.23 106.66h3.69v3.69h-3.69zM484.6 106.66h3.69v3.69h-3.69zM458.8 110.35h3.69v3.69h-3.69zM466.17 110.35h3.69v3.69h-3.69zM473.54 110.35h3.69v3.69h-3.69zM480.91 110.35h3.69v3.69h-3.69zM462.49 114.03h3.69v3.69h-3.69zM469.86 114.03h3.69v3.69h-3.69zM477.23 114.03h3.69v3.69h-3.69zM484.6 114.03h3.69v3.69h-3.69zM458.8 117.72h3.69v3.69h-3.69zM466.17 117.72h3.69v3.69h-3.69zM473.54 117.72h3.69v3.69h-3.69zM480.91 117.72h3.69v3.69h-3.69zM462.49 121.4h3.69v3.69h-3.69zM469.86 121.4h3.69v3.69h-3.69zM477.23 121.4h3.69v3.69h-3.69zM484.6 121.4h3.69v3.69h-3.69zM458.8 125.09h3.69v3.69h-3.69zM466.17 125.09h3.69v3.69h-3.69zM473.54 125.09h3.69v3.69h-3.69zM480.91 125.09h3.69v3.69h-3.69zM462.49 128.77h3.69v3.69h-3.69zM469.86 128.77h3.69v3.69h-3.69zM477.23 128.77h3.69v3.69h-3.69zM484.6 128.77h3.69v3.69h-3.69zM458.8 132.46h3.69v3.69h-3.69zM466.17 132.46h3.69v3.69h-3.69zM473.54 132.46h3.69v3.69h-3.69zM480.91 132.46h3.69v3.69h-3.69zM462.49 136.14h3.69v3.69h-3.69zM469.86 136.14h3.69v3.69h-3.69zM477.23 136.14h3.69v3.69h-3.69zM484.6 136.14h3.69v3.69h-3.69zM458.8 139.83h3.69v3.69h-3.69zM466.17 139.83h3.69v3.69h-3.69zM473.54 139.83h3.69v3.69h-3.69zM480.91 139.83h3.69v3.69h-3.69zM462.49 143.51h3.69v3.69h-3.69zM469.86 143.51h3.69v3.69h-3.69zM477.23 143.51h3.69v3.69h-3.69zM484.6 143.51h3.69v3.69h-3.69zM458.8 147.2h3.69v3.69h-3.69zM466.17 147.2h3.69v3.69h-3.69zM473.54 147.2h3.69v3.69h-3.69zM480.91 147.2h3.69v3.69h-3.69zM462.49 150.88h3.69v3.69h-3.69zM469.86 150.88h3.69v3.69h-3.69zM477.23 150.88h3.69v3.69h-3.69zM484.6 150.88h3.69v3.69h-3.69zM458.8 154.57h3.69v3.69h-3.69zM466.17 154.57h3.69v3.69h-3.69zM473.54 154.57h3.69v3.69h-3.69zM480.91 154.57h3.69v3.69h-3.69zM462.49 158.25h3.69v3.69h-3.69zM469.86 158.25h3.69v3.69h-3.69zM477.23 158.25h3.69v3.69h-3.69zM484.6 158.25h3.69v3.69h-3.69zM458.8 161.94h3.69v3.69h-3.69zM466.17 161.94h3.69v3.69h-3.69zM473.54 161.94h3.69v3.69h-3.69zM480.91 161.94h3.69v3.69h-3.69zM462.49 165.62h3.69v3.69h-3.69zM469.86 165.62h3.69v3.69h-3.69zM477.23 165.62h3.69v3.69h-3.69zM484.6 165.62h3.69v3.69h-3.69zM458.8 169.31h3.69v3.69h-3.69zM466.17 169.31h3.69v3.69h-3.69zM473.54 169.31h3.69v3.69h-3.69zM480.91 169.31h3.69v3.69h-3.69zM462.49 172.99h3.69v3.69h-3.69zM469.86 172.99h3.69v3.69h-3.69zM477.23 172.99h3.69v3.69h-3.69zM484.6 172.99h3.69v3.69h-3.69zM458.8 176.68h3.69v3.69h-3.69zM466.17 176.68h3.69v3.69h-3.69zM473.54 176.68h3.69v3.69h-3.69zM480.91 176.68h3.69v3.69h-3.69zM462.49 180.36h3.69v3.69h-3.69zM469.86 180.36h3.69v3.69h-3.69zM477.23 180.36h3.69v3.69h-3.69zM484.6 180.36h3.69v3.69h-3.69zM458.8 184.05h3.69v3.69h-3.69zM466.17 184.05h3.69v3.69h-3.69zM473.54 184.05h3.69v3.69h-3.69zM480.91 184.05h3.69v3.69h-3.69zM462.49 187.73h3.69v3.69h-3.69zM469.86 187.73h3.69v3.69h-3.69zM477.23 187.73h3.69v3.69h-3.69zM484.6 187.73h3.69v3.69h-3.69z" fill="#000"/>
<path d="M458.7 189.5V47.9H489.3V189.5" fill="none" stroke="#000" stroke-width="2.8" stroke-linejoin="miter"/>
<text transform="translate(474.85,24.75) scale(0.9,1)" text-anchor="middle" font-size="14.4" stroke="#000" stroke-width="0.42">###</text>
<line x1="520.2" y1="189.5" x2="520.2" y2="195.3" stroke="#000" stroke-width="1.9"/>
<text x="504.8" y="205.9" font-weight="bold" font-size="11.5">CHY50</text>
<rect x="518.85" y="75.65" width="2.7" height="7.4" fill="#000"/>
<rect x="510.9" y="74.3" width="18.6" height="2.7" fill="#000"/>
<path clip-path="url(#c1_2)" d="M506.3 87.35H534.1M506.3 91.2H534.1M506.3 95.05H534.1M506.3 98.9H534.1M506.3 102.75H534.1M506.3 106.6H534.1M506.3 110.45H534.1M506.3 114.3H534.1M506.3 118.15H534.1M506.3 122H534.1M506.3 125.85H534.1M506.3 129.7H534.1M506.3 133.55H534.1M506.3 137.4H534.1M506.3 141.25H534.1M506.3 145.1H534.1M506.3 148.95H534.1M506.3 152.8H534.1M506.3 156.65H534.1M506.3 160.5H534.1M506.3 164.35H534.1M506.3 168.2H534.1M506.3 172.05H534.1M506.3 175.9H534.1M506.3 179.75H534.1M506.3 183.6H534.1M506.3 187.45H534.1" stroke="#000" stroke-width="1.1" fill="none"/>
<path d="M504.9 189.5V83.45H535.5V189.5" fill="none" stroke="#000" stroke-width="2.8" stroke-linejoin="miter"/>
<text x="520.65" y="69.81" text-anchor="middle" font-size="16.5" stroke="#000" stroke-width="0.3">*</text>
<line x1="566.4" y1="189.5" x2="566.4" y2="195.3" stroke="#000" stroke-width="1.9"/>
<text x="551" y="205.9" font-weight="bold" font-size="11.5">CHY75</text>
<rect x="565.05" y="87.7" width="2.7" height="6.3" fill="#000"/>
<rect x="557.1" y="86.35" width="18.6" height="2.7" fill="#000"/>
<path clip-path="url(#c1_3)" d="M551.61 94.8V189.5M556.54 94.8V189.5M561.47 94.8V189.5M566.4 94.8V189.5M571.33 94.8V189.5M576.26 94.8V189.5M581.19 94.8V189.5" stroke="#000" stroke-width="1.1" fill="none"/>
<path d="M551.1 189.5V94.4H581.7V189.5" fill="none" stroke="#000" stroke-width="2.8" stroke-linejoin="miter"/>
<text x="566.1" y="80.66" text-anchor="middle" font-size="16.5" stroke="#000" stroke-width="0.3">**</text>
<line x1="612.6" y1="189.5" x2="612.6" y2="195.3" stroke="#000" stroke-width="1.9"/>
<text id="o4" x="597.2" y="205.9" font-weight="bold" font-size="11.5">CHY 00</text><path d="M0.43 0L0.43 -0.7L0.33 -0.7Q0.3 -0.62 0.12 -0.555L0.12 -0.445Q0.21 -0.475 0.29 -0.525L0.29 0Z" transform="translate(621.47,205.9) scale(11.5)"/>
<rect x="611.25" y="117.3" width="2.7" height="5.3" fill="#000"/>
<rect x="603.3" y="115.95" width="18.6" height="2.7" fill="#000"/>
<path clip-path="url(#c1_4)" d="M529.88 190.5L596.98 123.4M533.6 190.5L600.7 123.4M537.32 190.5L604.42 123.4M541.04 190.5L608.14 123.4M544.76 190.5L611.86 123.4M548.48 190.5L615.58 123.4M552.2 190.5L619.3 123.4M555.92 190.5L623.02 123.4M559.64 190.5L626.74 123.4M563.36 190.5L630.46 123.4M567.08 190.5L634.18 123.4M570.8 190.5L637.9 123.4M574.52 190.5L641.62 123.4M578.24 190.5L645.34 123.4M581.96 190.5L649.06 123.4M585.68 190.5L652.78 123.4M589.4 190.5L656.5 123.4M593.12 190.5L660.22 123.4M596.84 190.5L663.94 123.4M600.56 190.5L667.66 123.4M604.28 190.5L671.38 123.4M608 190.5L675.1 123.4M611.72 190.5L678.82 123.4M615.44 190.5L682.54 123.4M619.16 190.5L686.26 123.4M622.88 190.5L689.98 123.4M626.6 190.5L693.7 123.4" stroke="#000" stroke-width="1.32" fill="none"/>
<path d="M597.3 189.5V123H627.9V189.5" fill="none" stroke="#000" stroke-width="2.8" stroke-linejoin="miter"/>
<text x="613" y="112.41" text-anchor="middle" font-size="16.5" stroke="#000" stroke-width="0.3">***</text>
<line x1="658.8" y1="189.5" x2="658.8" y2="195.3" stroke="#000" stroke-width="1.9"/>
<text id="o5" x="643.4" y="205.9" font-weight="bold" font-size="11.5">SLY 00</text><path d="M0.43 0L0.43 -0.7L0.33 -0.7Q0.3 -0.62 0.12 -0.555L0.12 -0.445Q0.21 -0.475 0.29 -0.525L0.29 0Z" transform="translate(665.76,205.9) scale(11.5)"/>
<rect x="657.45" y="129.1" width="2.7" height="3.7" fill="#000"/>
<rect x="649.5" y="127.75" width="18.6" height="2.7" fill="#000"/>
<path clip-path="url(#c1_5)" d="M586.1 133.6L643 190.5M590 133.6L646.9 190.5M593.9 133.6L650.8 190.5M597.8 133.6L654.7 190.5M601.7 133.6L658.6 190.5M605.6 133.6L662.5 190.5M609.5 133.6L666.4 190.5M613.4 133.6L670.3 190.5M617.3 133.6L674.2 190.5M621.2 133.6L678.1 190.5M625.1 133.6L682 190.5M629 133.6L685.9 190.5M632.9 133.6L689.8 190.5M636.8 133.6L693.7 190.5M640.7 133.6L697.6 190.5M644.6 133.6L701.5 190.5M648.5 133.6L705.4 190.5M652.4 133.6L709.3 190.5M656.3 133.6L713.2 190.5M660.2 133.6L717.1 190.5M664.1 133.6L721 190.5M668 133.6L724.9 190.5M671.9 133.6L728.8 190.5M675.8 133.6L732.7 190.5" stroke="#000" stroke-width="1.38" fill="none"/>
<path d="M643.5 189.5V133.2H674.1V189.5" fill="none" stroke="#000" stroke-width="2.8" stroke-linejoin="miter"/>
<text x="659.05" y="124.71" text-anchor="middle" font-size="16.5" stroke="#000" stroke-width="0.3">***</text>
<line x1="398.9" y1="189.5" x2="682.9" y2="189.5" stroke="#000" stroke-width="1.9"/>
<line x1="404.9" y1="4.45" x2="404.9" y2="190.45" stroke="#000" stroke-width="1.9"/>
<line x1="201.05" y1="439.1" x2="207.05" y2="439.1" stroke="#000" stroke-width="1.9"/>
<text x="199.45" y="444.25" text-anchor="end" font-weight="bold" font-size="14">0</text>
<line x1="201.05" y1="377.7" x2="207.05" y2="377.7" stroke="#000" stroke-width="1.9"/>
<text x="199.45" y="382.85" text-anchor="end" font-weight="bold" font-size="14">5</text>
<line x1="201.05" y1="316.3" x2="207.05" y2="316.3" stroke="#000" stroke-width="1.9"/>
<text id="o6" x="199.45" y="321.45" text-anchor="end" font-weight="bold" font-size="14"> 0</text><path d="M0.43 0L0.43 -0.7L0.33 -0.7Q0.3 -0.62 0.12 -0.555L0.12 -0.445Q0.21 -0.475 0.29 -0.525L0.29 0Z" transform="translate(183.87,321.45) scale(14)"/>
<line x1="201.05" y1="254.9" x2="207.05" y2="254.9" stroke="#000" stroke-width="1.9"/>
<text id="o7" x="199.45" y="260.05" text-anchor="end" font-weight="bold" font-size="14"> 5</text><path d="M0.43 0L0.43 -0.7L0.33 -0.7Q0.3 -0.62 0.12 -0.555L0.12 -0.445Q0.21 -0.475 0.29 -0.525L0.29 0Z" transform="translate(183.87,260.05) scale(14)"/>
<text transform="translate(180.9,347.6) rotate(-90)" text-anchor="middle" font-weight="bold" font-size="15.3">TGF-<tspan font-weight="normal">β</tspan><tspan dx="1.8"> (ng/g)</tspan></text>
<line x1="229.95" y1="439.1" x2="229.95" y2="444.9" stroke="#000" stroke-width="1.9"/>
<text x="229.95" y="455.5" text-anchor="middle" font-weight="bold" font-size="11.5">NC</text>
<rect x="228.6" y="396.55" width="2.7" height="3.55" fill="#000"/>
<rect x="220.65" y="395.2" width="18.6" height="2.7" fill="#000"/>
<rect x="216.05" y="401.9" width="27.8" height="37.2" fill="#fff"/>
<path clip-path="url(#c2_0)" d="M216.45 400.46h1.84v1.84h-1.84zM220.13 400.46h1.84v1.84h-1.84zM223.81 400.46h1.84v1.84h-1.84zM227.49 400.46h1.84v1.84h-1.84zM231.17 400.46h1.84v1.84h-1.84zM234.85 400.46h1.84v1.84h-1.84zM238.53 400.46h1.84v1.84h-1.84zM242.21 400.46h1.84v1.84h-1.84zM214.61 402.3h1.84v1.84h-1.84zM218.29 402.3h1.84v1.84h-1.84zM221.97 402.3h1.84v1.84h-1.84zM225.65 402.3h1.84v1.84h-1.84zM229.33 402.3h1.84v1.84h-1.84zM233.01 402.3h1.84v1.84h-1.84zM236.69 402.3h1.84v1.84h-1.84zM240.37 402.3h1.84v1.84h-1.84zM216.45 404.14h1.84v1.84h-1.84zM220.13 404.14h1.84v1.84h-1.84zM223.81 404.14h1.84v1.84h-1.84zM227.49 404.14h1.84v1.84h-1.84zM231.17 404.14h1.84v1.84h-1.84zM234.85 404.14h1.84v1.84h-1.84zM238.53 404.14h1.84v1.84h-1.84zM242.21 404.14h1.84v1.84h-1.84zM214.61 405.98h1.84v1.84h-1.84zM218.29 405.98h1.84v1.84h-1.84zM221.97 405.98h1.84v1.84h-1.84zM225.65 405.98h1.84v1.84h-1.84zM229.33 405.98h1.84v1.84h-1.84zM233.01 405.98h1.84v1.84h-1.84zM236.69 405.98h1.84v1.84h-1.84zM240.37 405.98h1.84v1.84h-1.84zM216.45 407.82h1.84v1.84h-1.84zM220.13 407.82h1.84v1.84h-1.84zM223.81 407.82h1.84v1.84h-1.84zM227.49 407.82h1.84v1.84h-1.84zM231.17 407.82h1.84v1.84h-1.84zM234.85 407.82h1.84v1.84h-1.84zM238.53 407.82h1.84v1.84h-1.84zM242.21 407.82h1.84v1.84h-1.84zM214.61 409.66h1.84v1.84h-1.84zM218.29 409.66h1.84v1.84h-1.84zM221.97 409.66h1.84v1.84h-1.84zM225.65 409.66h1.84v1.84h-1.84zM229.33 409.66h1.84v1.84h-1.84zM233.01 409.66h1.84v1.84h-1.84zM236.69 409.66h1.84v1.84h-1.84zM240.37 409.66h1.84v1.84h-1.84zM216.45 411.5h1.84v1.84h-1.84zM220.13 411.5h1.84v1.84h-1.84zM223.81 411.5h1.84v1.84h-1.84zM227.49 411.5h1.84v1.84h-1.84zM231.17 411.5h1.84v1.84h-1.84zM234.85 411.5h1.84v1.84h-1.84zM238.53 411.5h1.84v1.84h-1.84zM242.21 411.5h1.84v1.84h-1.84zM214.61 413.34h1.84v1.84h-1.84zM218.29 413.34h1.84v1.84h-1.84zM221.97 413.34h1.84v1.84h-1.84zM225.65 413.34h1.84v1.84h-1.84zM229.33 413.34h1.84v1.84h-1.84zM233.01 413.34h1.84v1.84h-1.84zM236.69 413.34h1.84v1.84h-1.84zM240.37 413.34h1.84v1.84h-1.84zM216.45 415.18h1.84v1.84h-1.84zM220.13 415.18h1.84v1.84h-1.84zM223.81 415.18h1.84v1.84h-1.84zM227.49 415.18h1.84v1.84h-1.84zM231.17 415.18h1.84v1.84h-1.84zM234.85 415.18h1.84v1.84h-1.84zM238.53 415.18h1.84v1.84h-1.84zM242.21 415.18h1.84v1.84h-1.84zM214.61 417.02h1.84v1.84h-1.84zM218.29 417.02h1.84v1.84h-1.84zM221.97 417.02h1.84v1.84h-1.84zM225.65 417.02h1.84v1.84h-1.84zM229.33 417.02h1.84v1.84h-1.84zM233.01 417.02h1.84v1.84h-1.84zM236.69 417.02h1.84v1.84h-1.84zM240.37 417.02h1.84v1.84h-1.84zM216.45 418.86h1.84v1.84h-1.84zM220.13 418.86h1.84v1.84h-1.84zM223.81 418.86h1.84v1.84h-1.84zM227.49 418.86h1.84v1.84h-1.84zM231.17 418.86h1.84v1.84h-1.84zM234.85 418.86h1.84v1.84h-1.84zM238.53 418.86h1.84v1.84h-1.84zM242.21 418.86h1.84v1.84h-1.84zM214.61 420.7h1.84v1.84h-1.84zM218.29 420.7h1.84v1.84h-1.84zM221.97 420.7h1.84v1.84h-1.84zM225.65 420.7h1.84v1.84h-1.84zM229.33 420.7h1.84v1.84h-1.84zM233.01 420.7h1.84v1.84h-1.84zM236.69 420.7h1.84v1.84h-1.84zM240.37 420.7h1.84v1.84h-1.84zM216.45 422.54h1.84v1.84h-1.84zM220.13 422.54h1.84v1.84h-1.84zM223.81 422.54h1.84v1.84h-1.84zM227.49 422.54h1.84v1.84h-1.84zM231.17 422.54h1.84v1.84h-1.84zM234.85 422.54h1.84v1.84h-1.84zM238.53 422.54h1.84v1.84h-1.84zM242.21 422.54h1.84v1.84h-1.84zM214.61 424.38h1.84v1.84h-1.84zM218.29 424.38h1.84v1.84h-1.84zM221.97 424.38h1.84v1.84h-1.84zM225.65 424.38h1.84v1.84h-1.84zM229.33 424.38h1.84v1.84h-1.84zM233.01 424.38h1.84v1.84h-1.84zM236.69 424.38h1.84v1.84h-1.84zM240.37 424.38h1.84v1.84h-1.84zM216.45 426.22h1.84v1.84h-1.84zM220.13 426.22h1.84v1.84h-1.84zM223.81 426.22h1.84v1.84h-1.84zM227.49 426.22h1.84v1.84h-1.84zM231.17 426.22h1.84v1.84h-1.84zM234.85 426.22h1.84v1.84h-1.84zM238.53 426.22h1.84v1.84h-1.84zM242.21 426.22h1.84v1.84h-1.84zM214.61 428.06h1.84v1.84h-1.84zM218.29 428.06h1.84v1.84h-1.84zM221.97 428.06h1.84v1.84h-1.84zM225.65 428.06h1.84v1.84h-1.84zM229.33 428.06h1.84v1.84h-1.84zM233.01 428.06h1.84v1.84h-1.84zM236.69 428.06h1.84v1.84h-1.84zM240.37 428.06h1.84v1.84h-1.84zM216.45 429.9h1.84v1.84h-1.84zM220.13 429.9h1.84v1.84h-1.84zM223.81 429.9h1.84v1.84h-1.84zM227.49 429.9h1.84v1.84h-1.84zM231.17 429.9h1.84v1.84h-1.84zM234.85 429.9h1.84v1.84h-1.84zM238.53 429.9h1.84v1.84h-1.84zM242.21 429.9h1.84v1.84h-1.84zM214.61 431.74h1.84v1.84h-1.84zM218.29 431.74h1.84v1.84h-1.84zM221.97 431.74h1.84v1.84h-1.84zM225.65 431.74h1.84v1.84h-1.84zM229.33 431.74h1.84v1.84h-1.84zM233.01 431.74h1.84v1.84h-1.84zM236.69 431.74h1.84v1.84h-1.84zM240.37 431.74h1.84v1.84h-1.84zM216.45 433.58h1.84v1.84h-1.84zM220.13 433.58h1.84v1.84h-1.84zM223.81 433.58h1.84v1.84h-1.84zM227.49 433.58h1.84v1.84h-1.84zM231.17 433.58h1.84v1.84h-1.84zM234.85 433.58h1.84v1.84h-1.84zM238.53 433.58h1.84v1.84h-1.84zM242.21 433.58h1.84v1.84h-1.84zM214.61 435.42h1.84v1.84h-1.84zM218.29 435.42h1.84v1.84h-1.84zM221.97 435.42h1.84v1.84h-1.84zM225.65 435.42h1.84v1.84h-1.84zM229.33 435.42h1.84v1.84h-1.84zM233.01 435.42h1.84v1.84h-1.84zM236.69 435.42h1.84v1.84h-1.84zM240.37 435.42h1.84v1.84h-1.84zM216.45 437.26h1.84v1.84h-1.84zM220.13 437.26h1.84v1.84h-1.84zM223.81 437.26h1.84v1.84h-1.84zM227.49 437.26h1.84v1.84h-1.84zM231.17 437.26h1.84v1.84h-1.84zM234.85 437.26h1.84v1.84h-1.84zM238.53 437.26h1.84v1.84h-1.84zM242.21 437.26h1.84v1.84h-1.84zM214.61 439.1h1.84v1.84h-1.84zM218.29 439.1h1.84v1.84h-1.84zM221.97 439.1h1.84v1.84h-1.84zM225.65 439.1h1.84v1.84h-1.84zM229.33 439.1h1.84v1.84h-1.84zM233.01 439.1h1.84v1.84h-1.84zM236.69 439.1h1.84v1.84h-1.84zM240.37 439.1h1.84v1.84h-1.84z" fill="#000"/>
<path d="M214.65 439.1V400.5H245.25V439.1" fill="none" stroke="#000" stroke-width="2.8" stroke-linejoin="miter"/>
<line x1="276.15" y1="439.1" x2="276.15" y2="444.9" stroke="#000" stroke-width="1.9"/>
<text x="276.15" y="455.5" text-anchor="middle" font-weight="bold" font-size="11.5">DC</text>
<rect x="274.8" y="302.6" width="2.7" height="10.7" fill="#000"/>
<rect x="266.85" y="301.25" width="18.6" height="2.7" fill="#000"/>
<rect x="262.25" y="315.1" width="27.8" height="124" fill="#fff"/>
<path clip-path="url(#c2_1)" d="M264.63 313.5h3.69v3.69h-3.69zM272 313.5h3.69v3.69h-3.69zM279.38 313.5h3.69v3.69h-3.69zM286.75 313.5h3.69v3.69h-3.69zM260.95 317.19h3.69v3.69h-3.69zM268.32 317.19h3.69v3.69h-3.69zM275.69 317.19h3.69v3.69h-3.69zM283.06 317.19h3.69v3.69h-3.69zM264.63 320.87h3.69v3.69h-3.69zM272 320.87h3.69v3.69h-3.69zM279.38 320.87h3.69v3.69h-3.69zM286.75 320.87h3.69v3.69h-3.69zM260.95 324.56h3.69v3.69h-3.69zM268.32 324.56h3.69v3.69h-3.69zM275.69 324.56h3.69v3.69h-3.69zM283.06 324.56h3.69v3.69h-3.69zM264.63 328.24h3.69v3.69h-3.69zM272 328.24h3.69v3.69h-3.69zM279.38 328.24h3.69v3.69h-3.69zM286.75 328.24h3.69v3.69h-3.69zM260.95 331.93h3.69v3.69h-3.69zM268.32 331.93h3.69v3.69h-3.69zM275.69 331.93h3.69v3.69h-3.69zM283.06 331.93h3.69v3.69h-3.69zM264.63 335.61h3.69v3.69h-3.69zM272 335.61h3.69v3.69h-3.69zM279.38 335.61h3.69v3.69h-3.69zM286.75 335.61h3.69v3.69h-3.69zM260.95 339.3h3.69v3.69h-3.69zM268.32 339.3h3.69v3.69h-3.69zM275.69 339.3h3.69v3.69h-3.69zM283.06 339.3h3.69v3.69h-3.69zM264.63 342.98h3.69v3.69h-3.69zM272 342.98h3.69v3.69h-3.69zM279.38 342.98h3.69v3.69h-3.69zM286.75 342.98h3.69v3.69h-3.69zM260.95 346.67h3.69v3.69h-3.69zM268.32 346.67h3.69v3.69h-3.69zM275.69 346.67h3.69v3.69h-3.69zM283.06 346.67h3.69v3.69h-3.69zM264.63 350.35h3.69v3.69h-3.69zM272 350.35h3.69v3.69h-3.69zM279.38 350.35h3.69v3.69h-3.69zM286.75 350.35h3.69v3.69h-3.69zM260.95 354.04h3.69v3.69h-3.69zM268.32 354.04h3.69v3.69h-3.69zM275.69 354.04h3.69v3.69h-3.69zM283.06 354.04h3.69v3.69h-3.69zM264.63 357.72h3.69v3.69h-3.69zM272 357.72h3.69v3.69h-3.69zM279.38 357.72h3.69v3.69h-3.69zM286.75 357.72h3.69v3.69h-3.69zM260.95 361.41h3.69v3.69h-3.69zM268.32 361.41h3.69v3.69h-3.69zM275.69 361.41h3.69v3.69h-3.69zM283.06 361.41h3.69v3.69h-3.69zM264.63 365.09h3.69v3.69h-3.69zM272 365.09h3.69v3.69h-3.69zM279.38 365.09h3.69v3.69h-3.69zM286.75 365.09h3.69v3.69h-3.69zM260.95 368.78h3.69v3.69h-3.69zM268.32 368.78h3.69v3.69h-3.69zM275.69 368.78h3.69v3.69h-3.69zM283.06 368.78h3.69v3.69h-3.69zM264.63 372.46h3.69v3.69h-3.69zM272 372.46h3.69v3.69h-3.69zM279.38 372.46h3.69v3.69h-3.69zM286.75 372.46h3.69v3.69h-3.69zM260.95 376.15h3.69v3.69h-3.69zM268.32 376.15h3.69v3.69h-3.69zM275.69 376.15h3.69v3.69h-3.69zM283.06 376.15h3.69v3.69h-3.69zM264.63 379.83h3.69v3.69h-3.69zM272 379.83h3.69v3.69h-3.69zM279.38 379.83h3.69v3.69h-3.69zM286.75 379.83h3.69v3.69h-3.69zM260.95 383.52h3.69v3.69h-3.69zM268.32 383.52h3.69v3.69h-3.69zM275.69 383.52h3.69v3.69h-3.69zM283.06 383.52h3.69v3.69h-3.69zM264.63 387.2h3.69v3.69h-3.69zM272 387.2h3.69v3.69h-3.69zM279.38 387.2h3.69v3.69h-3.69zM286.75 387.2h3.69v3.69h-3.69zM260.95 390.89h3.69v3.69h-3.69zM268.32 390.89h3.69v3.69h-3.69zM275.69 390.89h3.69v3.69h-3.69zM283.06 390.89h3.69v3.69h-3.69zM264.63 394.57h3.69v3.69h-3.69zM272 394.57h3.69v3.69h-3.69zM279.38 394.57h3.69v3.69h-3.69zM286.75 394.57h3.69v3.69h-3.69zM260.95 398.26h3.69v3.69h-3.69zM268.32 398.26h3.69v3.69h-3.69zM275.69 398.26h3.69v3.69h-3.69zM283.06 398.26h3.69v3.69h-3.69zM264.63 401.94h3.69v3.69h-3.69zM272 401.94h3.69v3.69h-3.69zM279.38 401.94h3.69v3.69h-3.69zM286.75 401.94h3.69v3.69h-3.69zM260.95 405.63h3.69v3.69h-3.69zM268.32 405.63h3.69v3.69h-3.69zM275.69 405.63h3.69v3.69h-3.69zM283.06 405.63h3.69v3.69h-3.69zM264.63 409.31h3.69v3.69h-3.69zM272 409.31h3.69v3.69h-3.69zM279.38 409.31h3.69v3.69h-3.69zM286.75 409.31h3.69v3.69h-3.69zM260.95 413h3.69v3.69h-3.69zM268.32 413h3.69v3.69h-3.69zM275.69 413h3.69v3.69h-3.69zM283.06 413h3.69v3.69h-3.69zM264.63 416.68h3.69v3.69h-3.69zM272 416.68h3.69v3.69h-3.69zM279.38 416.68h3.69v3.69h-3.69zM286.75 416.68h3.69v3.69h-3.69zM260.95 420.37h3.69v3.69h-3.69zM268.32 420.37h3.69v3.69h-3.69zM275.69 420.37h3.69v3.69h-3.69zM283.06 420.37h3.69v3.69h-3.69zM264.63 424.05h3.69v3.69h-3.69zM272 424.05h3.69v3.69h-3.69zM279.38 424.05h3.69v3.69h-3.69zM286.75 424.05h3.69v3.69h-3.69zM260.95 427.74h3.69v3.69h-3.69zM268.32 427.74h3.69v3.69h-3.69zM275.69 427.74h3.69v3.69h-3.69zM283.06 427.74h3.69v3.69h-3.69zM264.63 431.42h3.69v3.69h-3.69zM272 431.42h3.69v3.69h-3.69zM279.38 431.42h3.69v3.69h-3.69zM286.75 431.42h3.69v3.69h-3.69zM260.95 435.11h3.69v3.69h-3.69zM268.32 435.11h3.69v3.69h-3.69zM275.69 435.11h3.69v3.69h-3.69zM283.06 435.11h3.69v3.69h-3.69zM264.63 438.79h3.69v3.69h-3.69zM272 438.79h3.69v3.69h-3.69zM279.38 438.79h3.69v3.69h-3.69zM286.75 438.79h3.69v3.69h-3.69z" fill="#000"/>
<path d="M260.85 439.1V313.7H291.45V439.1" fill="none" stroke="#000" stroke-width="2.8" stroke-linejoin="miter"/>
<text transform="translate(276.95,292.75) scale(0.9,1)" text-anchor="middle" font-size="14.4" stroke="#000" stroke-width="0.42">###</text>
<line x1="322.35" y1="439.1" x2="322.35" y2="444.9" stroke="#000" stroke-width="1.9"/>
<text x="306.95" y="455.5" font-weight="bold" font-size="11.5">CHY50</text>
<rect x="321" y="336.35" width="2.7" height="6.65" fill="#000"/>
<rect x="313.05" y="335" width="18.6" height="2.7" fill="#000"/>
<path clip-path="url(#c2_2)" d="M308.45 347.3H336.25M308.45 351.15H336.25M308.45 355H336.25M308.45 358.85H336.25M308.45 362.7H336.25M308.45 366.55H336.25M308.45 370.4H336.25M308.45 374.25H336.25M308.45 378.1H336.25M308.45 381.95H336.25M308.45 385.8H336.25M308.45 389.65H336.25M308.45 393.5H336.25M308.45 397.35H336.25M308.45 401.2H336.25M308.45 405.05H336.25M308.45 408.9H336.25M308.45 412.75H336.25M308.45 416.6H336.25M308.45 420.45H336.25M308.45 424.3H336.25M308.45 428.15H336.25M308.45 432H336.25M308.45 435.85H336.25M308.45 439.7H336.25" stroke="#000" stroke-width="1.1" fill="none"/>
<path d="M307.05 439.1V343.4H337.65V439.1" fill="none" stroke="#000" stroke-width="2.8" stroke-linejoin="miter"/>
<text x="322.65" y="332.76" text-anchor="middle" font-size="16.5" stroke="#000" stroke-width="0.3">*</text>
<line x1="368.55" y1="439.1" x2="368.55" y2="444.9" stroke="#000" stroke-width="1.9"/>
<text x="353.15" y="455.5" font-weight="bold" font-size="11.5">CHY75</text>
<rect x="367.2" y="350.1" width="2.7" height="4.9" fill="#000"/>
<rect x="359.25" y="348.75" width="18.6" height="2.7" fill="#000"/>
<path clip-path="url(#c2_3)" d="M353.76 355.8V439.1M358.69 355.8V439.1M363.62 355.8V439.1M368.55 355.8V439.1M373.48 355.8V439.1M378.41 355.8V439.1M383.34 355.8V439.1" stroke="#000" stroke-width="1.1" fill="none"/>
<path d="M353.25 439.1V355.4H383.85V439.1" fill="none" stroke="#000" stroke-width="2.8" stroke-linejoin="miter"/>
<text x="368.3" y="345.06" text-anchor="middle" font-size="16.5" stroke="#000" stroke-width="0.3">**</text>
<line x1="414.75" y1="439.1" x2="414.75" y2="444.9" stroke="#000" stroke-width="1.9"/>
<text id="o8" x="399.35" y="455.5" font-weight="bold" font-size="11.5">CHY 00</text><path d="M0.43 0L0.43 -0.7L0.33 -0.7Q0.3 -0.62 0.12 -0.555L0.12 -0.445Q0.21 -0.475 0.29 -0.525L0.29 0Z" transform="translate(423.62,455.5) scale(11.5)"/>
<rect x="413.4" y="364.95" width="2.7" height="4.45" fill="#000"/>
<rect x="405.45" y="363.6" width="18.6" height="2.7" fill="#000"/>
<path clip-path="url(#c2_4)" d="M329.23 440.1L399.13 370.2M332.95 440.1L402.85 370.2M336.67 440.1L406.57 370.2M340.39 440.1L410.29 370.2M344.11 440.1L414.01 370.2M347.83 440.1L417.73 370.2M351.55 440.1L421.45 370.2M355.27 440.1L425.17 370.2M358.99 440.1L428.89 370.2M362.71 440.1L432.61 370.2M366.43 440.1L436.33 370.2M370.15 440.1L440.05 370.2M373.87 440.1L443.77 370.2M377.59 440.1L447.49 370.2M381.31 440.1L451.21 370.2M385.03 440.1L454.93 370.2M388.75 440.1L458.65 370.2M392.47 440.1L462.37 370.2M396.19 440.1L466.09 370.2M399.91 440.1L469.81 370.2M403.63 440.1L473.53 370.2M407.35 440.1L477.25 370.2M411.07 440.1L480.97 370.2M414.79 440.1L484.69 370.2M418.51 440.1L488.41 370.2M422.23 440.1L492.13 370.2M425.95 440.1L495.85 370.2M429.67 440.1L499.57 370.2" stroke="#000" stroke-width="1.32" fill="none"/>
<path d="M399.45 439.1V369.8H430.05V439.1" fill="none" stroke="#000" stroke-width="2.8" stroke-linejoin="miter"/>
<text x="415.15" y="359.71" text-anchor="middle" font-size="16.5" stroke="#000" stroke-width="0.3">***</text>
<line x1="460.95" y1="439.1" x2="460.95" y2="444.9" stroke="#000" stroke-width="1.9"/>
<text id="o9" x="445.55" y="455.5" font-weight="bold" font-size="11.5">SLY 00</text><path d="M0.43 0L0.43 -0.7L0.33 -0.7Q0.3 -0.62 0.12 -0.555L0.12 -0.445Q0.21 -0.475 0.29 -0.525L0.29 0Z" transform="translate(467.91,455.5) scale(11.5)"/>
<rect x="459.6" y="383.2" width="2.7" height="3.9" fill="#000"/>
<rect x="451.65" y="381.85" width="18.6" height="2.7" fill="#000"/>
<path clip-path="url(#c2_5)" d="M392.95 387.9L445.15 440.1M396.85 387.9L449.05 440.1M400.75 387.9L452.95 440.1M404.65 387.9L456.85 440.1M408.55 387.9L460.75 440.1M412.45 387.9L464.65 440.1M416.35 387.9L468.55 440.1M420.25 387.9L472.45 440.1M424.15 387.9L476.35 440.1M428.05 387.9L480.25 440.1M431.95 387.9L484.15 440.1M435.85 387.9L488.05 440.1M439.75 387.9L491.95 440.1M443.65 387.9L495.85 440.1M447.55 387.9L499.75 440.1M451.45 387.9L503.65 440.1M455.35 387.9L507.55 440.1M459.25 387.9L511.45 440.1M463.15 387.9L515.35 440.1M467.05 387.9L519.25 440.1M470.95 387.9L523.15 440.1M474.85 387.9L527.05 440.1M478.75 387.9L530.95 440.1" stroke="#000" stroke-width="1.38" fill="none"/>
<path d="M445.65 439.1V387.5H476.25V439.1" fill="none" stroke="#000" stroke-width="2.8" stroke-linejoin="miter"/>
<text x="461" y="376.81" text-anchor="middle" font-size="16.5" stroke="#000" stroke-width="0.3">***</text>
<line x1="201.05" y1="439.1" x2="484.9" y2="439.1" stroke="#000" stroke-width="1.9"/>
<line x1="207.05" y1="253.95" x2="207.05" y2="440.05" stroke="#000" stroke-width="1.9"/>
</svg>
</body></html>
